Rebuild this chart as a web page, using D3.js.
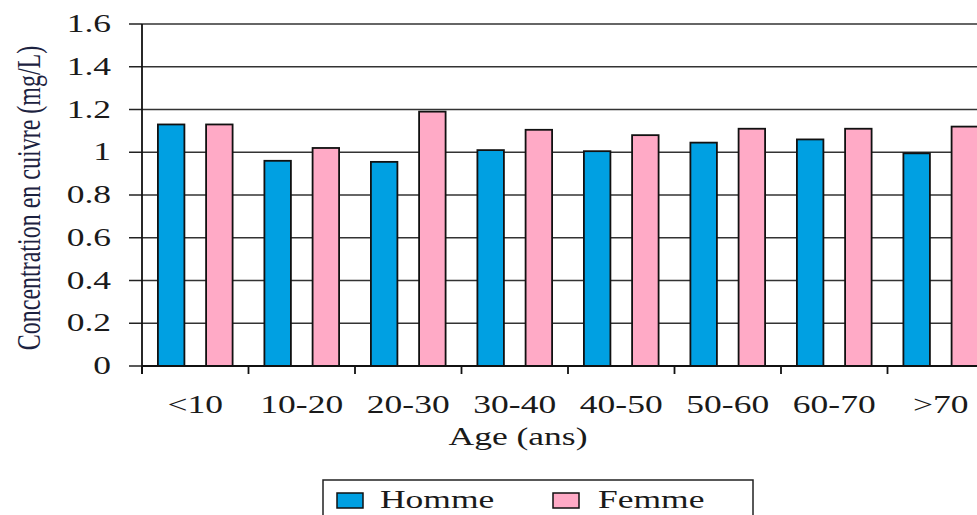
<!DOCTYPE html>
<html>
<head>
<meta charset="utf-8">
<script src="https://cdn.jsdelivr.net/npm/d3@7"></script>
<style>
  html, body { margin: 0; padding: 0; background: #fff; }
  svg { display: block; }
  text { font-family: "Liberation Serif", "Times New Roman", serif; fill: #1a1a1a; }
</style>
</head>
<body>
<svg id="chart" width="977" height="515"></svg>
<script>
const categories = ["<10", "10-20", "20-30", "30-40", "40-50", "50-60", "60-70", ">70"];
const seriesNames = ["Homme", "Femme"];
const homme = [1.13, 0.96, 0.955, 1.01, 1.005, 1.045, 1.06, 0.995];
const femme = [1.13, 1.02, 1.19, 1.105, 1.08, 1.11, 1.11, 1.12];
const yTicks = [0, 0.2, 0.4, 0.6, 0.8, 1, 1.2, 1.4, 1.6];
const yTickLabels = ["0", "0.2", "0.4", "0.6", "0.8", "1", "1.2", "1.4", "1.6"];
const colors = ["#00A0E2", "#FFAAC6"];

(function () {
const svg = d3.select("#chart");
const pLeft = 142, pTop = 24, pBottom = 366, pRight = 142 + 8 * 106.5;
const SX = 1.42;

const x = d3.scaleBand().domain(categories).range([pLeft, pRight]).paddingInner(0).paddingOuter(0);
const xs = d3.scaleBand().domain(seriesNames).range([0, x.bandwidth()]).paddingInner(0.45).paddingOuter(0.33);
const y = d3.scaleLinear().domain([0, 1.6]).range([pBottom, pTop]);

// gridlines
svg.append("g").selectAll("line").data(yTicks.filter(d => d > 0)).join("line")
  .attr("x1", pLeft).attr("x2", 977)
  .attr("y1", d => y(d)).attr("y2", d => y(d))
  .attr("stroke", "#333").attr("stroke-width", 1.5);

// y tick marks
svg.append("g").selectAll("line").data(yTicks).join("line")
  .attr("x1", pLeft - 13).attr("x2", pLeft)
  .attr("y1", d => y(d)).attr("y2", d => y(d))
  .attr("stroke", "#222").attr("stroke-width", 1.5);

// y labels
svg.append("g").selectAll("text").data(yTicks).join("text")
  .attr("transform", d => `translate(${pLeft - 31},${y(d) + 8}) scale(${SX},1)`)
  .attr("text-anchor", "end")
  .attr("font-size", 25)
  .text((d, i) => yTickLabels[i]);

// bars
const groups = svg.append("g").selectAll("g").data(categories).join("g")
  .attr("transform", d => `translate(${x(d)},0)`);
const seriesData = [homme, femme];
groups.selectAll("rect").data((c, i) => seriesNames.map((s, k) => ({ s, k, v: seriesData[k][i] }))).join("rect")
  .attr("x", d => xs(d.s))
  .attr("width", xs.bandwidth())
  .attr("y", d => y(d.v))
  .attr("height", d => pBottom - y(d.v))
  .attr("fill", d => colors[d.k])
  .attr("stroke", "#111").attr("stroke-width", 1.8);

// left axis line
svg.append("line").attr("x1", pLeft).attr("x2", pLeft).attr("y1", pTop).attr("y2", pBottom + 8)
  .attr("stroke", "#111").attr("stroke-width", 1.8);
// x axis line
svg.append("line").attr("x1", pLeft).attr("x2", 977).attr("y1", pBottom).attr("y2", pBottom)
  .attr("stroke", "#111").attr("stroke-width", 1.8);
// x tick marks at category boundaries
const bounds = categories.map(c => x(c)).concat([pRight]);
svg.append("g").selectAll("line").data(bounds).join("line")
  .attr("x1", d => d).attr("x2", d => d)
  .attr("y1", pBottom).attr("y2", pBottom + 8)
  .attr("stroke", "#111").attr("stroke-width", 1.8);

// x labels
svg.append("g").selectAll("text").data(categories).join("text")
  .attr("transform", d => `translate(${x(d) + x.bandwidth() / 2},${413}) scale(${SX},1)`)
  .attr("text-anchor", "middle")
  .attr("font-size", 25)
  .text(d => d);

// x title
svg.append("text")
  .attr("transform", `translate(518,445) scale(${SX},1)`)
  .attr("text-anchor", "middle")
  .attr("font-size", 25)
  .text("Age (ans)");

// y title
svg.append("text")
  .attr("transform", `translate(40,198) rotate(-90) scale(1,${SX})`)
  .attr("text-anchor", "middle")
  .attr("font-size", 24)
  .style("fill", "#1c2240")
  .text("Concentration en cuivre (mg/L)");

// legend
const lg = svg.append("g");
lg.append("rect").attr("x", 323).attr("y", 480).attr("width", 430).attr("height", 50)
  .attr("fill", "#fff").attr("stroke", "#222").attr("stroke-width", 1.5);
const legX = [337, 553];
const legTX = [380, 598];
seriesNames.forEach((s, k) => {
  lg.append("rect").attr("x", legX[k]).attr("y", 493).attr("width", 26).attr("height", 15)
    .attr("fill", colors[k]).attr("stroke", "#111").attr("stroke-width", 1.5);
  lg.append("text").attr("transform", `translate(${legTX[k]},508) scale(${SX},1)`)
    .attr("font-size", 25).text(s);
});
})();
</script>
</body>
</html>
